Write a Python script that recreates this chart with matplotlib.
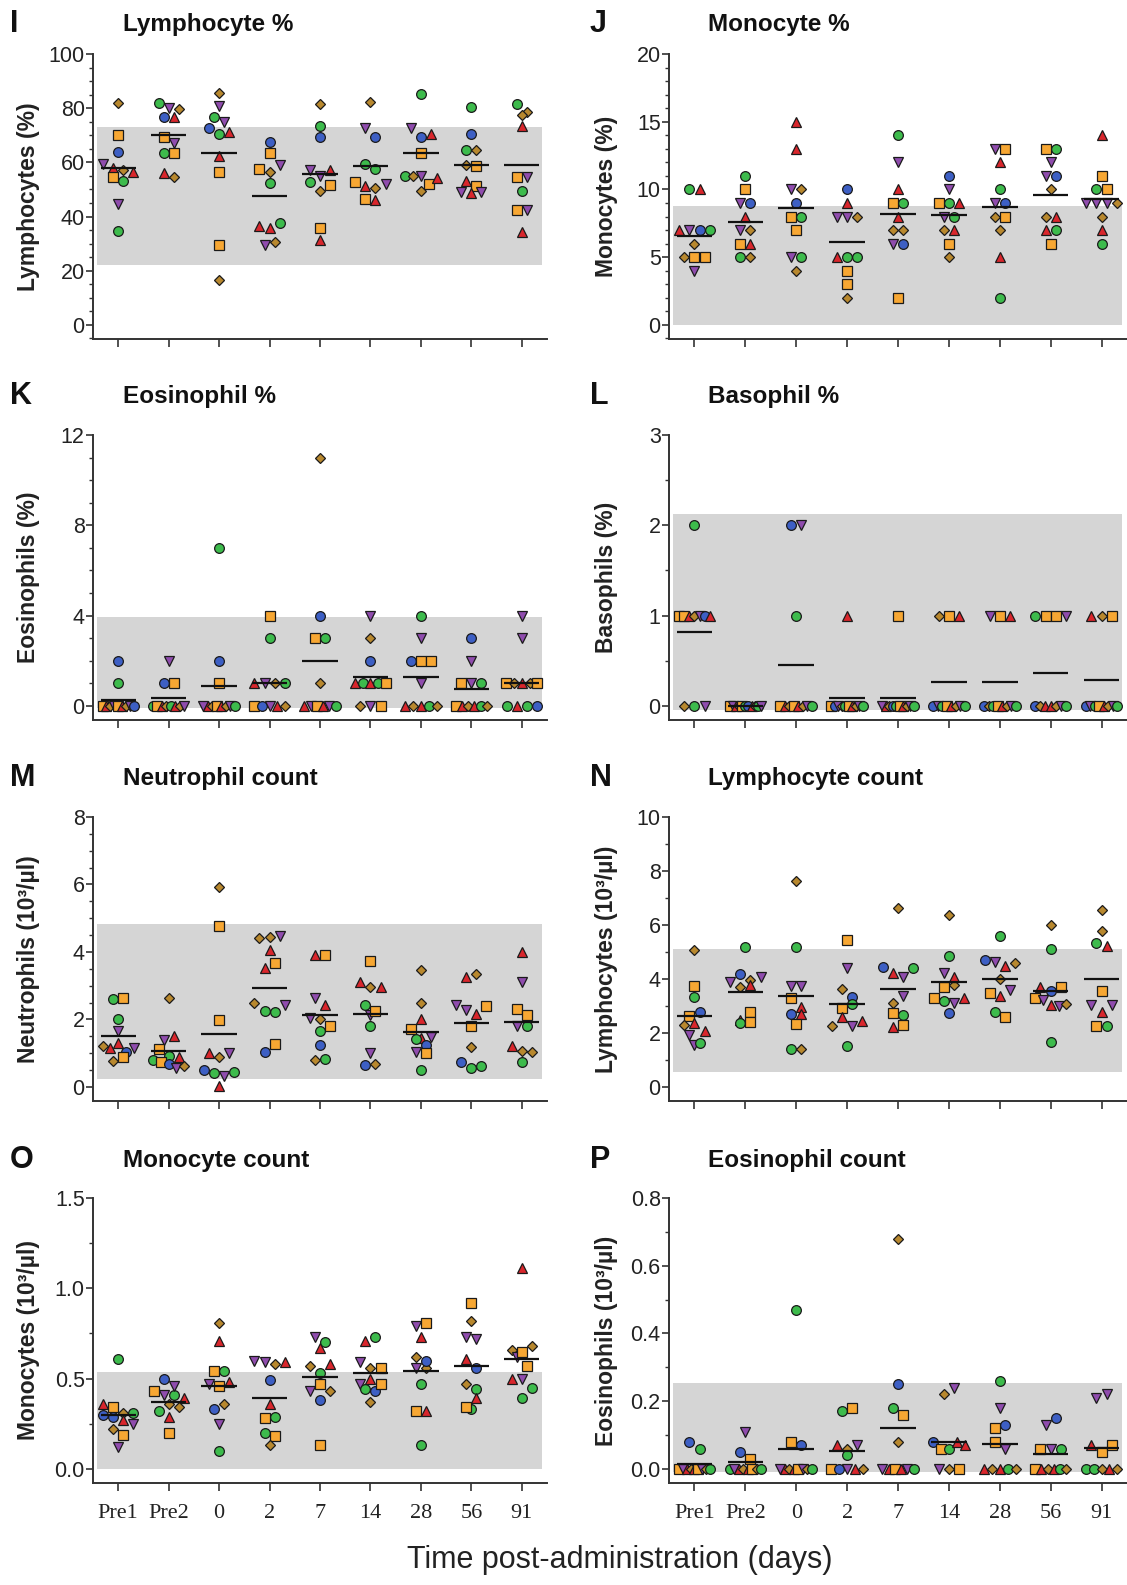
import numpy as np
import matplotlib
matplotlib.use('Agg')
import matplotlib.pyplot as plt
from matplotlib.ticker import MultipleLocator, FormatStrFormatter

W, H = 1127, 1585

times = ['Pre1', 'Pre2', '0', '2', '7', '14', '28', '56', '91']

# animal keys: B blue circle, G green circle, S orange square,
# U red up-triangle, D purple down-triangle, X diamond
lym_pct = [
    [(82, 'X'), (70, 'S'), (64, 'B'), (59.5, 'D'), (58, 'U'), (57, 'X'), (56.4, 'U'), (54.5, 'S'), (53.3, 'G'), (44.6, 'D'), (34.7, 'G')],
    [(81.8, 'G'), (80, 'D'), (79.7, 'X'), (76.6, 'B'), (76.6, 'U'), (69.4, 'S'), (67, 'D'), (63.6, 'G'), (63.6, 'S'), (56, 'U'), (54.5, 'X')],
    [(85.5, 'X'), (80.8, 'D'), (76.6, 'G'), (75, 'D'), (72.5, 'B'), (70.3, 'G'), (71.3, 'U'), (62.2, 'U'), (56.4, 'S'), (29.5, 'S'), (16.7, 'X')],
    [(67.5, 'B'), (63.6, 'S'), (57.6, 'S'), (56.4, 'X'), (58.9, 'D'), (52.3, 'G'), (36.4, 'U'), (35.6, 'U'), (37.7, 'G'), (29.4, 'D'), (30.6, 'X')],
    [(81.4, 'X'), (73.5, 'G'), (69.4, 'B'), (57, 'D'), (55.1, 'D'), (57.2, 'U'), (52.7, 'G'), (49.6, 'X'), (51.7, 'S'), (35.6, 'S'), (31.5, 'U')],
    [(82.4, 'X'), (72.7, 'D'), (69.4, 'B'), (59.5, 'G'), (57.6, 'G'), (52.7, 'S'), (51.4, 'U'), (50.4, 'X'), (52, 'D'), (46.5, 'S'), (46.2, 'U')],
    [(85.3, 'G'), (72.7, 'D'), (69.4, 'B'), (70.4, 'U'), (63.4, 'S'), (55.1, 'G'), (55.1, 'X'), (55.1, 'D'), (52, 'S'), (54.3, 'U'), (49.6, 'X')],
    [(80.5, 'G'), (70.4, 'B'), (64.4, 'G'), (64.4, 'X'), (58.9, 'X'), (58.5, 'S'), (53.3, 'U'), (51.4, 'S'), (49, 'D'), (48.6, 'U'), (49, 'D')],
    [(81.4, 'G'), (78.5, 'X'), (77.5, 'X'), (73.4, 'U'), (54.5, 'S'), (54.5, 'D'), (49.6, 'G'), (42.5, 'S'), (42.5, 'D'), (34.3, 'U')],
]
lym_pct_mean = [58, 70, 63.4, 47.7, 55.8, 58.5, 63.4, 59.1, 59.1]

mono_pct = [
    [(10, 'G'), (10, 'U'), (7, 'U'), (7, 'D'), (7, 'B'), (7, 'G'), (6, 'X'), (5, 'X'), (5, 'S'), (5, 'S'), (4, 'D')],
    [(11, 'G'), (10, 'S'), (9, 'D'), (9, 'B'), (8, 'U'), (7, 'D'), (7, 'X'), (6, 'S'), (6, 'U'), (5, 'G'), (5, 'X')],
    [(15, 'U'), (13, 'U'), (10, 'D'), (10, 'X'), (9, 'B'), (8, 'S'), (8, 'G'), (7, 'S'), (5, 'D'), (5, 'G'), (4, 'X')],
    [(10, 'B'), (9, 'U'), (8, 'D'), (8, 'D'), (8, 'X'), (5, 'U'), (5, 'G'), (5, 'G'), (4, 'S'), (3, 'S'), (2, 'X')],
    [(14, 'G'), (12, 'D'), (10, 'U'), (9, 'S'), (9, 'G'), (8, 'U'), (7, 'X'), (7, 'X'), (6, 'D'), (6, 'B'), (2, 'S')],
    [(11, 'B'), (10, 'D'), (9, 'S'), (9, 'G'), (9, 'U'), (8, 'D'), (8, 'G'), (7, 'X'), (7, 'U'), (6, 'S'), (5, 'X')],
    [(13, 'D'), (13, 'S'), (12, 'U'), (10, 'G'), (9, 'D'), (9, 'B'), (8, 'X'), (8, 'S'), (7, 'X'), (5, 'U'), (2, 'G')],
    [(13, 'S'), (13, 'G'), (12, 'D'), (11, 'D'), (11, 'B'), (10, 'X'), (8, 'X'), (8, 'U'), (7, 'U'), (7, 'G'), (6, 'S')],
    [(14, 'U'), (11, 'S'), (10, 'G'), (10, 'S'), (9, 'D'), (9, 'D'), (9, 'D'), (9, 'X'), (8, 'X'), (7, 'U'), (6, 'G')],
]
mono_pct_mean = [6.6, 7.6, 8.6, 6.1, 8.2, 8.1, 8.7, 9.6, 9.3]

eos_pct = [
    [(2, 'B'), (1, 'G'), (0, 'S'), (0, 'U'), (0, 'X'), (0, 'D'), (0, 'S'), (0, 'U'), (0, 'X'), (0, 'D'), (0, 'B')],
    [(2, 'D'), (1, 'B'), (1, 'S'), (0, 'G'), (0, 'S'), (0, 'U'), (0, 'X'), (0, 'G'), (0, 'U'), (0, 'X'), (0, 'D')],
    [(7, 'G'), (2, 'B'), (1, 'S'), (0, 'D'), (0, 'U'), (0, 'X'), (0, 'S'), (0, 'U'), (0, 'X'), (0, 'D'), (0, 'G')],
    [(4, 'S'), (3, 'G'), (1, 'U'), (1, 'D'), (1, 'X'), (1, 'G'), (0, 'S'), (0, 'B'), (0, 'D'), (0, 'U'), (0, 'X')],
    [(11, 'X'), (4, 'B'), (3, 'S'), (3, 'G'), (1, 'X'), (0, 'U'), (0, 'D'), (0, 'S'), (0, 'U'), (0, 'D'), (0, 'G')],
    [(4, 'D'), (3, 'X'), (2, 'B'), (1, 'U'), (1, 'G'), (1, 'U'), (1, 'G'), (1, 'S'), (0, 'X'), (0, 'D'), (0, 'S')],
    [(4, 'G'), (3, 'D'), (2, 'B'), (2, 'S'), (2, 'S'), (1, 'D'), (0, 'U'), (0, 'X'), (0, 'U'), (0, 'G'), (0, 'X')],
    [(3, 'B'), (2, 'D'), (1, 'S'), (1, 'D'), (1, 'G'), (0, 'S'), (0, 'U'), (0, 'X'), (0, 'U'), (0, 'G'), (0, 'X')],
    [(4, 'D'), (3, 'D'), (1, 'S'), (1, 'X'), (1, 'U'), (1, 'X'), (1, 'S'), (0, 'G'), (0, 'U'), (0, 'G'), (0, 'B')],
]
eos_pct_mean = [0.27, 0.36, 0.9, 1.0, 2.0, 1.27, 1.27, 0.73, 1.0]

baso_pct = [
    [(2, 'G'), (1, 'S'), (1, 'S'), (1, 'U'), (1, 'X'), (1, 'D'), (1, 'B'), (1, 'U'), (0, 'X'), (0, 'G'), (0, 'D')],
    [(0, 'S'), (0, 'D'), (0, 'U'), (0, 'X'), (0, 'S'), (0, 'G'), (0, 'B'), (0, 'U'), (0, 'X'), (0, 'G'), (0, 'D')],
    [(2, 'B'), (2, 'D'), (1, 'G'), (0, 'S'), (0, 'U'), (0, 'X'), (0, 'S'), (0, 'U'), (0, 'X'), (0, 'D'), (0, 'G')],
    [(1, 'U'), (0, 'S'), (0, 'B'), (0, 'D'), (0, 'X'), (0, 'G'), (0, 'S'), (0, 'U'), (0, 'X'), (0, 'D'), (0, 'G')],
    [(1, 'S'), (0, 'D'), (0, 'U'), (0, 'X'), (0, 'B'), (0, 'G'), (0, 'S'), (0, 'U'), (0, 'X'), (0, 'D'), (0, 'G')],
    [(1, 'X'), (1, 'S'), (1, 'U'), (0, 'B'), (0, 'D'), (0, 'G'), (0, 'S'), (0, 'U'), (0, 'X'), (0, 'D'), (0, 'G')],
    [(1, 'D'), (1, 'S'), (1, 'U'), (0, 'B'), (0, 'X'), (0, 'G'), (0, 'S'), (0, 'U'), (0, 'X'), (0, 'D'), (0, 'G')],
    [(1, 'G'), (1, 'S'), (1, 'S'), (1, 'D'), (0, 'B'), (0, 'X'), (0, 'U'), (0, 'U'), (0, 'X'), (0, 'D'), (0, 'G')],
    [(1, 'U'), (1, 'X'), (1, 'S'), (0, 'B'), (0, 'D'), (0, 'G'), (0, 'S'), (0, 'U'), (0, 'X'), (0, 'D'), (0, 'G')],
]
baso_pct_mean = [0.82, 0.0, 0.45, 0.09, 0.09, 0.27, 0.27, 0.36, 0.29]

neut_cnt = [
    [(2.62, 'G'), (2.65, 'S'), (2.02, 'G'), (1.65, 'D'), (1.2, 'X'), (1.15, 'U'), (1.3, 'U'), (1.05, 'B'), (1.15, 'D'), (0.78, 'X'), (0.88, 'S')],
    [(2.63, 'X'), (1.4, 'D'), (1.5, 'U'), (1.12, 'S'), (0.92, 'G'), (0.88, 'U'), (0.8, 'G'), (0.75, 'S'), (0.68, 'B'), (0.55, 'D'), (0.62, 'X')],
    [(5.93, 'X'), (4.77, 'S'), (1.98, 'S'), (1.0, 'U'), (0.88, 'X'), (1.0, 'D'), (0.5, 'B'), (0.42, 'G'), (0.32, 'D'), (0.45, 'G'), (0.02, 'U')],
    [(4.42, 'X'), (4.45, 'X'), (4.47, 'D'), (4.07, 'U'), (3.52, 'U'), (3.67, 'S'), (2.5, 'X'), (2.25, 'G'), (2.22, 'G'), (2.42, 'D'), (1.05, 'B'), (1.28, 'S')],
    [(3.92, 'U'), (3.92, 'S'), (2.65, 'D'), (2.42, 'U'), (2.05, 'D'), (2.02, 'X'), (1.8, 'S'), (1.65, 'G'), (1.25, 'B'), (0.8, 'X'), (0.82, 'G')],
    [(3.72, 'S'), (3.12, 'U'), (2.95, 'X'), (2.95, 'U'), (2.42, 'G'), (2.12, 'D'), (2.25, 'S'), (1.82, 'G'), (1.0, 'D'), (0.65, 'B'), (0.68, 'X')],
    [(3.48, 'X'), (2.48, 'X'), (2.0, 'U'), (1.72, 'S'), (1.45, 'U'), (1.42, 'G'), (1.47, 'D'), (1.25, 'B'), (1.05, 'D'), (1.02, 'S'), (0.5, 'G')],
    [(3.25, 'U'), (3.35, 'X'), (2.42, 'D'), (2.28, 'D'), (2.15, 'U'), (2.4, 'S'), (1.82, 'S'), (1.18, 'X'), (0.75, 'B'), (0.55, 'G'), (0.63, 'G')],
    [(4.0, 'U'), (3.12, 'D'), (2.32, 'S'), (2.13, 'S'), (1.8, 'D'), (1.8, 'G'), (1.2, 'U'), (1.07, 'X'), (1.03, 'X'), (0.75, 'G')],
]
neut_cnt_mean = [1.5, 1.07, 1.58, 2.92, 2.12, 2.15, 1.62, 1.9, 1.92]

lym_cnt = [
    [(5.07, 'X'), (3.75, 'S'), (3.33, 'G'), (2.61, 'S'), (2.76, 'B'), (2.31, 'X'), (2.37, 'U'), (1.94, 'D'), (2.06, 'U'), (1.57, 'D'), (1.61, 'G')],
    [(5.17, 'G'), (3.88, 'D'), (4.2, 'B'), (3.96, 'X'), (3.72, 'X'), (4.06, 'D'), (3.78, 'U'), (2.49, 'U'), (2.76, 'S'), (2.37, 'G'), (2.39, 'S')],
    [(7.64, 'X'), (5.17, 'G'), (3.75, 'D'), (3.75, 'D'), (3.29, 'S'), (2.96, 'U'), (2.71, 'B'), (2.71, 'U'), (2.34, 'S'), (1.39, 'G'), (1.39, 'X')],
    [(5.44, 'S'), (4.39, 'D'), (3.62, 'X'), (3.35, 'B'), (2.92, 'S'), (3.07, 'G'), (2.25, 'X'), (2.59, 'U'), (2.25, 'D'), (2.43, 'U'), (1.53, 'G')],
    [(6.63, 'X'), (4.43, 'B'), (4.21, 'U'), (4.09, 'D'), (4.39, 'G'), (3.1, 'X'), (3.37, 'D'), (2.74, 'S'), (2.67, 'G'), (2.22, 'U'), (2.31, 'S')],
    [(6.38, 'X'), (4.86, 'G'), (4.23, 'D'), (3.72, 'S'), (3.78, 'X'), (4.09, 'U'), (3.31, 'S'), (3.19, 'G'), (3.1, 'D'), (3.31, 'U'), (2.74, 'B')],
    [(5.6, 'G'), (4.72, 'B'), (4.64, 'D'), (4.48, 'U'), (4.61, 'X'), (3.99, 'X'), (3.47, 'S'), (3.37, 'U'), (3.6, 'D'), (2.77, 'G'), (2.58, 'S')],
    [(6.01, 'X'), (5.1, 'G'), (3.72, 'U'), (3.31, 'S'), (3.57, 'B'), (3.72, 'S'), (3.23, 'D'), (3.04, 'U'), (3.0, 'D'), (3.07, 'X'), (1.66, 'G')],
    [(6.56, 'X'), (5.78, 'X'), (5.34, 'G'), (5.21, 'U'), (3.57, 'S'), (3.02, 'D'), (2.76, 'U'), (3.04, 'D'), (2.27, 'S'), (2.27, 'G')],
]
lym_cnt_mean = [2.64, 3.53, 3.37, 3.07, 3.64, 3.9, 3.99, 3.57, 4.0]

mono_cnt = [
    [(0.61, 'G'), (0.36, 'U'), (0.34, 'S'), (0.31, 'X'), (0.30, 'B'), (0.29, 'B'), (0.27, 'U'), (0.31, 'G'), (0.25, 'D'), (0.22, 'X'), (0.19, 'S'), (0.12, 'D')],
    [(0.50, 'B'), (0.43, 'S'), (0.41, 'D'), (0.41, 'G'), (0.46, 'D'), (0.39, 'U'), (0.32, 'G'), (0.29, 'U'), (0.36, 'X'), (0.34, 'X'), (0.20, 'S')],
    [(0.81, 'X'), (0.71, 'U'), (0.54, 'S'), (0.54, 'G'), (0.47, 'D'), (0.46, 'S'), (0.48, 'U'), (0.33, 'B'), (0.36, 'X'), (0.25, 'D'), (0.10, 'G')],
    [(0.60, 'D'), (0.59, 'D'), (0.58, 'X'), (0.59, 'U'), (0.49, 'B'), (0.36, 'U'), (0.28, 'S'), (0.29, 'G'), (0.20, 'G'), (0.18, 'S'), (0.13, 'X')],
    [(0.73, 'D'), (0.67, 'U'), (0.70, 'G'), (0.57, 'X'), (0.53, 'G'), (0.58, 'U'), (0.43, 'D'), (0.47, 'S'), (0.43, 'X'), (0.38, 'B'), (0.13, 'S')],
    [(0.71, 'U'), (0.73, 'G'), (0.59, 'D'), (0.56, 'X'), (0.56, 'S'), (0.47, 'D'), (0.50, 'U'), (0.44, 'G'), (0.43, 'B'), (0.47, 'S'), (0.37, 'X')],
    [(0.79, 'D'), (0.81, 'S'), (0.73, 'U'), (0.56, 'D'), (0.62, 'X'), (0.56, 'X'), (0.60, 'B'), (0.47, 'G'), (0.32, 'S'), (0.32, 'U'), (0.13, 'G')],
    [(0.92, 'S'), (0.82, 'X'), (0.73, 'D'), (0.72, 'D'), (0.61, 'U'), (0.56, 'B'), (0.47, 'X'), (0.44, 'G'), (0.33, 'G'), (0.34, 'S'), (0.39, 'U')],
    [(1.11, 'U'), (0.66, 'X'), (0.62, 'D'), (0.65, 'S'), (0.68, 'X'), (0.57, 'S'), (0.50, 'U'), (0.50, 'D'), (0.45, 'G'), (0.39, 'G')],
]
mono_cnt_mean = [0.30, 0.37, 0.46, 0.39, 0.51, 0.53, 0.54, 0.57, 0.61]

eos_cnt = [
    [(0.08, 'B'), (0.06, 'G'), (0, 'S'), (0, 'D'), (0, 'U'), (0, 'X'), (0, 'U'), (0, 'S'), (0, 'D'), (0, 'X'), (0, 'G')],
    [(0.11, 'D'), (0.05, 'B'), (0.03, 'S'), (0, 'G'), (0, 'D'), (0, 'U'), (0, 'X'), (0, 'U'), (0, 'S'), (0, 'X'), (0, 'G')],
    [(0.47, 'G'), (0.08, 'S'), (0.07, 'B'), (0, 'D'), (0, 'U'), (0, 'X'), (0, 'U'), (0, 'S'), (0, 'D'), (0, 'X'), (0, 'G')],
    [(0.17, 'G'), (0.18, 'S'), (0.07, 'U'), (0.06, 'X'), (0.04, 'G'), (0.07, 'D'), (0, 'S'), (0, 'B'), (0, 'D'), (0, 'U'), (0, 'X')],
    [(0.68, 'X'), (0.25, 'B'), (0.18, 'G'), (0.16, 'S'), (0.08, 'X'), (0, 'D'), (0, 'U'), (0, 'S'), (0, 'U'), (0, 'D'), (0, 'G')],
    [(0.22, 'X'), (0.24, 'D'), (0.08, 'B'), (0.06, 'S'), (0.06, 'G'), (0.08, 'U'), (0.07, 'U'), (0, 'D'), (0, 'X'), (0, 'S')],
    [(0.26, 'G'), (0.18, 'D'), (0.12, 'S'), (0.13, 'B'), (0.08, 'S'), (0.06, 'D'), (0, 'U'), (0, 'X'), (0, 'U'), (0, 'G'), (0, 'X')],
    [(0.13, 'D'), (0.15, 'B'), (0.06, 'S'), (0.06, 'D'), (0.06, 'G'), (0, 'S'), (0, 'U'), (0, 'X'), (0, 'U'), (0, 'G'), (0, 'X')],
    [(0.21, 'D'), (0.22, 'D'), (0.07, 'U'), (0.05, 'S'), (0.07, 'S'), (0, 'G'), (0, 'G'), (0, 'X'), (0, 'U'), (0, 'X')],
]
eos_cnt_mean = [0.013, 0.02, 0.058, 0.053, 0.12, 0.08, 0.075, 0.043, 0.062]

# reference ranges (grey bands)
bands = {
    'I': (22, 73), 'J': (0, 8.75), 'K': (-0.1, 3.95), 'L': (-0.05, 2.12),
    'M': (0.25, 4.83), 'N': (0.55, 5.12), 'O': (0, 0.535), 'P': (-0.01, 0.255),
}

style = {
    'B': ('o', '#3d5fc4', 7.0),
    'G': ('o', '#3dbb4c', 7.0),
    'S': ('s', '#f7a733', 6.6),
    'U': ('^', '#d9262c', 7.4),
    'D': ('v', '#8f4cad', 7.4),
    'X': ('D', '#b8882e', 5.4),
}

plt.rcParams['font.family'] = ['Liberation Sans', 'DejaVu Sans']

fig = plt.figure(figsize=(W / 100, H / 100), dpi=100)

panels = [
    ('I', 'Lymphocyte %', 'Lymphocytes (%)', lym_pct, lym_pct_mean, 100, 20, 5, '%d'),
    ('J', 'Monocyte %', 'Monocytes (%)', mono_pct, mono_pct_mean, 20, 5, 1, '%d'),
    ('K', 'Eosinophil %', 'Eosinophils (%)', eos_pct, eos_pct_mean, 12, 4, 1, '%d'),
    ('L', 'Basophil %', 'Basophils (%)', baso_pct, baso_pct_mean, 3, 1, 0.5, '%d'),
    ('M', 'Neutrophil count', 'Neutrophils (10³/µl)', neut_cnt, neut_cnt_mean, 8, 2, 0.5, '%d'),
    ('N', 'Lymphocyte count', 'Lymphocytes (10³/µl)', lym_cnt, lym_cnt_mean, 10, 2, 1, '%d'),
    ('O', 'Monocyte count', 'Monocytes (10³/µl)', mono_cnt, mono_cnt_mean, 1.5, 0.5, 0.25, '%.1f'),
    ('P', 'Eosinophil count', 'Eosinophils (10³/µl)', eos_cnt, eos_cnt_mean, 0.8, 0.2, 0.1, '%.1f'),
]

col_x = [93, 669]
col_w = [454, 458]
row_top = [54, 435, 817, 1198]
row_bot = [339, 720, 1101, 1483]
ylab_x = [29, 607]
letter_x = [10, 590]
title_x = [123, 708]
title_y = [24, 396, 778, 1160]


def spread(vals, thr, step, maxw):
    vals = np.asarray(vals, float)
    order = np.argsort(-vals, kind='stable')
    offs = np.zeros(len(vals))
    clusters, cur = [], [order[0]]
    for i in order[1:]:
        if vals[cur[0]] - vals[i] < thr:
            cur.append(i)
        else:
            clusters.append(cur)
            cur = [i]
    clusters.append(cur)
    for c in clusters:
        c = sorted(c)
        n = len(c)
        st = step if n < 2 else min(step, maxw / (n - 1))
        for k, i in enumerate(c):
            offs[i] = (k - (n - 1) / 2) * st
    return offs


for idx, (letter, title, ylab, data, means, top, major, minor, fmt) in enumerate(panels):
    r, c = idx // 2, idx % 2
    x0 = col_x[c] / W
    y0 = 1 - row_bot[r] / H
    h = (row_bot[r] - row_top[r]) / H
    ax = fig.add_axes([x0, y0, col_w[c] / W, h])
    ymin = -top * 14 / 269
    ax.set_ylim(ymin, top)
    ax.set_xlim(-0.5, 8.5)

    lo, hi = bands[letter]
    ax.fill_between([-0.42, 8.4], lo, hi, color='#d5d5d5', lw=0, zorder=0)

    for g, pts in enumerate(data):
        vals = [p[0] for p in pts]
        offs = spread(vals, 0.035 * top, 0.2, 0.62)
        for (v, k), dx in zip(pts, offs):
            m, col, ms = style[k]
            ax.plot(g + dx, v, marker=m, ms=ms, mfc=col, mec='#1a1a1a', mew=0.9,
                    ls='none', zorder=3, clip_on=False)
        ax.hlines(means[g], g - 0.35, g + 0.35, color='#111111', lw=1.6, zorder=4)

    for s in ['top', 'right']:
        ax.spines[s].set_visible(False)
    for s in ['left', 'bottom']:
        ax.spines[s].set_linewidth(1.4)
        ax.spines[s].set_color('#333333')
    ax.spines['left'].set_bounds(ymin, top)

    ax.yaxis.set_major_locator(MultipleLocator(major))
    ax.yaxis.set_minor_locator(MultipleLocator(minor))
    ax.yaxis.set_major_formatter(FormatStrFormatter(fmt))
    ax.tick_params(axis='y', which='major', length=5, width=1.2, color='#333333',
                   labelsize=15.5, labelcolor='#222222', pad=1)
    ax.tick_params(axis='y', which='minor', length=3, width=1.0, color='#333333')
    ax.set_xticks(range(len(times)))
    ax.tick_params(axis='x', length=6, width=1.2, color='#333333', pad=9)
    if r == 3:
        ax.set_xticklabels(times, fontsize=16, family='Liberation Serif', color='#222222')
    else:
        ax.set_xticklabels([])

    yc = 1 - (row_top[r] + row_bot[r]) / 2 / H
    fig.text(ylab_x[c] / W, yc, ylab, rotation=90, ha='center', va='center',
             fontsize=16.5, fontweight='bold', color='#222222')
    fig.text(letter_x[c] / W, 1 - title_y[r] / H, letter, ha='left', va='center',
             fontsize=22, fontweight='bold', color='#111111')
    fig.text(title_x[c] / W, 1 - title_y[r] / H, title, ha='left', va='center',
             fontsize=17.5, fontweight='bold', color='#111111')

fig.text(620 / W, 1 - 1560 / H, 'Time post-administration (days)', ha='center',
         va='center', fontsize=22, color='#222222')

fig.savefig('out.png', dpi=100)
